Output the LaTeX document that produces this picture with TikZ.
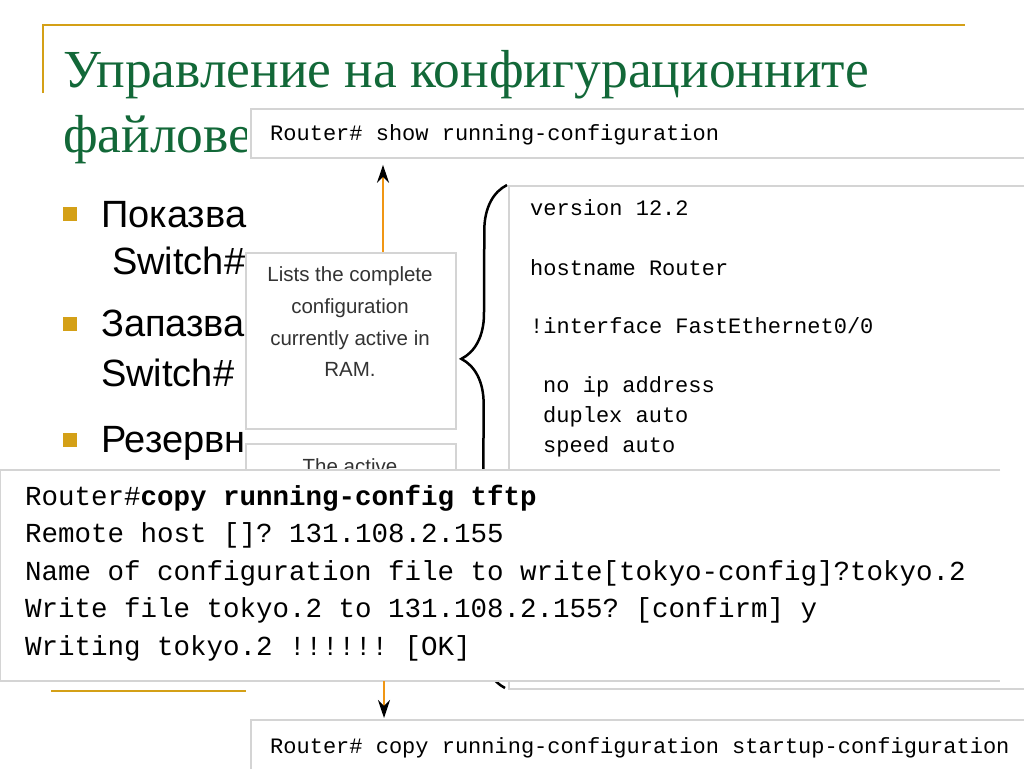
\documentclass[tikz,border=0pt]{standalone}
\usepackage{fontspec}
\setmainfont{Liberation Serif}
\setsansfont{Liberation Sans}
\setmonofont{Liberation Mono}
\usetikzlibrary{arrows.meta, positioning, decorations.pathreplacing}
\definecolor{titlegreen}{RGB}{18,104,56}
\definecolor{slidegold}{RGB}{212,160,23}
\definecolor{flowline}{RGB}{240,150,20}
\definecolor{boxedge}{RGB}{212,212,212}

\begin{document}
\begin{tikzpicture}[x=1pt, y=-1pt,
  titletext/.style={anchor=base west, inner sep=0, text=titlegreen, font=\fontsize{53.5}{53.5}\selectfont},
  bullettext/.style={anchor=base west, inner sep=0, font=\sffamily\fontsize{38}{38}\selectfont},
  bulletmark/.style={fill=slidegold, minimum size=14pt, inner sep=0},
  shotbox/.style={draw=boxedge, line width=1.8pt, fill=white, anchor=north west, inner sep=0},
  codetext/.style={anchor=base west, inner sep=0, font=\ttfamily\fontsize{22}{22}\selectfont},
  tftptext/.style={anchor=base west, inner sep=0, font=\ttfamily\fontsize{27.5}{27.5}\selectfont},
  notetext/.style={inner sep=0, font=\sffamily\fontsize{20.5}{31.7}\selectfont, text=black!80, align=center},
  flow/.style={draw=flowline, line width=2pt, -{Stealth[black, length=18pt, width=12pt]}}
]
\clip (0,0) rectangle (1024,768);
\fill[white] (0,0) rectangle (1024,768);

% Slide frame
\draw[slidegold, line width=1.5pt] (43,93) -- (43,25) -- (965,25);
\draw[slidegold, line width=2pt] (51,691) -- (246,691);

% Title
\node[titletext] (title1) at (63,87) {Управление на конфигурационните};
\node[titletext] (title2) at (63,152) {файлове};

% Bullets
\node[bulletmark] (dot1) at (70,214) {};
\node[bullettext] (show1) at (101,227) {Показва};
\node[bullettext] (show2) at (112,274) {Switch\#};
\node[bulletmark] (dot2) at (70,324) {};
\node[bullettext] (save1) at (101,336) {Запазва};
\node[bullettext] (save2) at (101,386) {Switch\#};
\node[bulletmark] (dot3) at (70,440) {};
\node[bullettext] (backup1) at (101,452) {Резервн};

% Screenshot
\fill[white] (247,108) rectangle (1024,768);
\coordinate (upcol) at (383,0);
\coordinate (downcol) at (384,0);

\node[shotbox, minimum width=800pt, minimum height=49pt] (show) at (250,108) {};
\node[codetext] (showcmd) at (270,140) {Router\# show running-configuration};

\node[shotbox, minimum width=210pt, minimum height=176pt] (lists) at (245,252) {};
\node[notetext] (liststext) at (350,322) {Lists the complete\\configuration\\currently active in\\RAM.};
\node[shotbox, minimum width=210pt, minimum height=60pt] (active) at (245,443) {};
\node[notetext, anchor=base] (activetext) at (350,473) {The active};

\draw[flow, shorten >=6pt] (lists.north -| upcol) -- (show.south -| upcol);

% Brace
\draw[decorate, decoration={brace, amplitude=45pt, aspect=0.654}, line width=2.5pt]
  (505,688) -- (507,185);

\node[shotbox, minimum width=600pt, minimum height=503pt] (running) at (508,185) {};
\node[codetext] (cfg1) at (530,215) {version 12.2};
\node[codetext] (cfg2) at (530,275) {hostname Router};
\node[codetext] (cfg3) at (530,333) {!interface FastEthernet0/0};
\node[codetext] (cfg4) at (543,392) {no ip address};
\node[codetext] (cfg5) at (543,422) {duplex auto};
\node[codetext] (cfg6) at (543,452) {speed auto};

% TFTP session
\node[fill=white, anchor=north west, inner sep=0, minimum width=1000pt, minimum height=211pt] (tftp) at (0,470) {};
\draw[boxedge, line width=2pt] (tftp.north east) -- (tftp.north west) -- (tftp.south west) -- (tftp.south east);
\node[tftptext] (tftp1) at (25,505) {Router\#\textbf{copy running-config tftp}};
\node[tftptext] (tftp2) at (25,542) {Remote host []? 131.108.2.155};
\node[tftptext] (tftp3) at (25,580) {Name of configuration file to write[tokyo-config]?tokyo.2};
\node[tftptext] (tftp4) at (25,617) {Write file tokyo.2 to 131.108.2.155? [confirm] y};
\node[tftptext] (tftp5) at (25,655) {Writing tokyo.2 !!!!!! [OK]};

% Copy to startup
\node[shotbox, minimum width=800pt, minimum height=60pt] (startup) at (250,719) {};
\node[codetext] (startcmd) at (270,753) {Router\# copy running-configuration startup-configuration};
\draw[flow, shorten >=1pt] (tftp.south -| downcol) -- (startup.north -| downcol);
\end{tikzpicture}
\end{document}
